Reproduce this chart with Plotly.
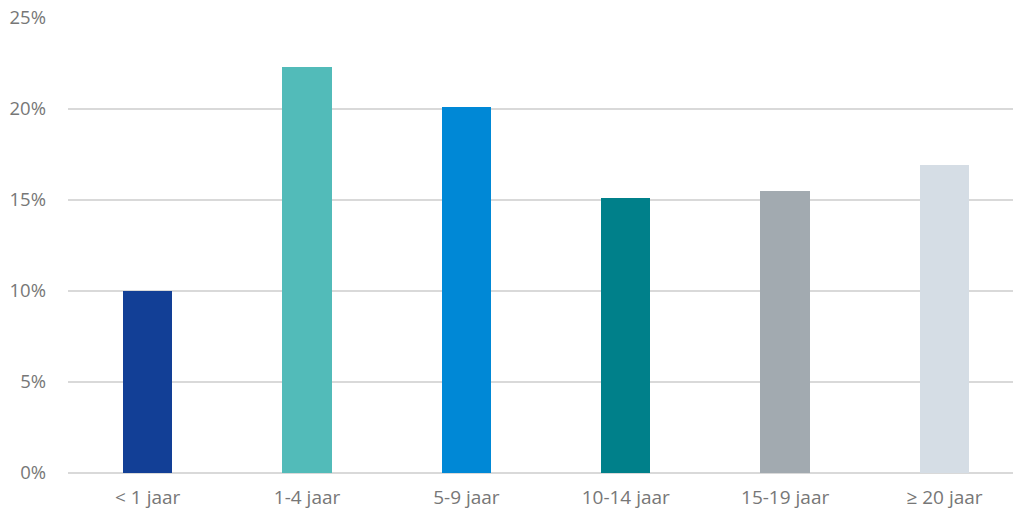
import plotly.graph_objects as go

categories = ["< 1 jaar", "1-4 jaar", "5-9 jaar", "10-14 jaar", "15-19 jaar", "≥ 20 jaar"]
values = [10.0, 22.3, 20.1, 15.1, 15.5, 16.9]
colors = ["#123f96", "#52bbb9", "#0088d6", "#00808a", "#a2aab0", "#d5dde5"]
y_ticks = [0, 5, 10, 15, 20, 25]
y_tick_labels = ["0%", "5%", "10%", "15%", "20%", "25%"]

fig = go.Figure(go.Bar(
    x=list(range(len(categories))), y=values,
    marker=dict(color=colors, line=dict(width=0)),
    width=0.31, hoverinfo="skip",
))

xfont = dict(family="Open Sans, Segoe UI, sans-serif", size=19, color="#777777")
yfont = dict(family="Open Sans, Segoe UI, sans-serif", size=18.5, color="#777777")
fig.update_layout(
    width=1013, height=513,
    margin=dict(l=68, r=0, t=18, b=40),
    paper_bgcolor="white", plot_bgcolor="white",
    showlegend=False, bargap=0, font=xfont,
)
fig.update_xaxes(
    tickmode="array", tickvals=list(range(len(categories))), ticktext=categories,
    range=[-0.5, 5.43], showgrid=False, showline=False, zeroline=False,
    ticks="", ticklabelstandoff=11, tickfont=xfont,
)
fig.update_yaxes(
    range=[0, 25], tickmode="array", tickvals=y_ticks, ticktext=y_tick_labels,
    showgrid=True, gridcolor="#d9d9d9", gridwidth=2,
    zeroline=True, zerolinecolor="#d9d9d9", zerolinewidth=2,
    showline=False, ticks="", ticklabelstandoff=21, tickfont=yfont,
)
fig.write_html(
    "out.html",
    config={"displayModeBar": False},
    post_script="document.body.style.margin='0';document.body.style.overflow='hidden';",
)
